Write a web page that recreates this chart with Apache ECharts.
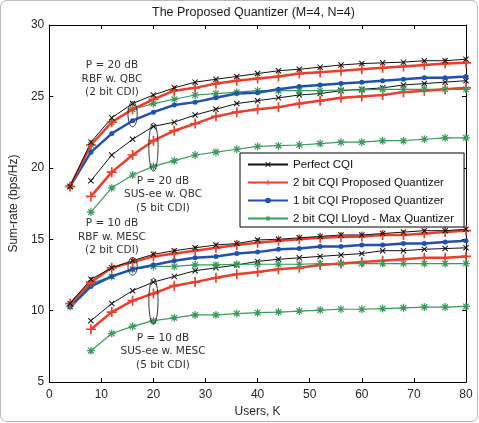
<!DOCTYPE html>
<html>
<head>
<meta charset="utf-8">
<script src="https://cdn.jsdelivr.net/npm/echarts@6/dist/echarts.min.js"></script>
<style>
  html, body { margin: 0; background: #fff; }
  #chart { width: 479px; height: 423px; }
</style>
</head>
<body>
<div id="chart"></div>
<script>
// users K (RBF curves start at 4, SUS-ee curves at 8)
var users = [4, 8, 12, 16, 20, 24, 28, 32, 36, 40, 44, 48, 52, 56, 60, 64, 68, 72, 76, 80]
var usersSus = users.slice(1)

// P = 20 dB, RBF w. QBC (2 bit CDI)
var rbf20Perfect = [18.7, 21.8, 23.5, 24.5, 25.1, 25.6, 26.0, 26.2, 26.4, 26.6, 26.8, 26.9, 27.05, 27.2, 27.3, 27.35, 27.4, 27.5, 27.5, 27.6]
var rbf20Bit2 = [18.7, 21.6, 23.2, 24.1, 24.8, 25.4, 25.6, 25.9, 26.1, 26.25, 26.4, 26.6, 26.7, 26.8, 26.9, 27.0, 27.1, 27.2, 27.3, 27.35]
var rbf20Bit1 = [18.7, 21.1, 22.4, 23.3, 23.9, 24.4, 24.6, 24.9, 25.2, 25.25, 25.5, 25.7, 25.8, 25.9, 26.0, 26.1, 26.2, 26.3, 26.3, 26.4]
var rbf20Lloyd = [18.7, 21.6, 23.2, 24.1, 24.5, 24.8, 25.1, 25.2, 25.3, 25.4, 25.4, 25.4, 25.4, 25.45, 25.45, 25.5, 25.5, 25.5, 25.5, 25.5]

// P = 20 dB, SUS-ee w. QBC (5 bit CDI)
var sus20Perfect = [19.1, 20.9, 22.0, 22.9, 23.2, 23.7, 24.1, 24.5, 24.7, 24.9, 25.1, 25.2, 25.4, 25.5, 25.6, 25.8, 25.9, 26.0, 26.1]
var sus20Bit2 = [18.0, 19.7, 20.9, 21.9, 22.6, 23.1, 23.6, 23.9, 24.1, 24.25, 24.5, 24.7, 24.9, 25.0, 25.1, 25.3, 25.4, 25.5, 25.6]
var sus20Lloyd = [16.9, 18.6, 19.5, 20.1, 20.5, 20.9, 21.1, 21.3, 21.5, 21.55, 21.6, 21.7, 21.8, 21.8, 21.9, 21.9, 22.0, 22.1, 22.1]

// P = 10 dB, RBF w. MESC (2 bit CDI)
var rbf10Perfect = [10.5, 12.2, 13.0, 13.5, 13.95, 14.2, 14.4, 14.6, 14.7, 14.95, 15.0, 15.1, 15.2, 15.3, 15.3, 15.4, 15.5, 15.6, 15.6, 15.7]
var rbf10Bit2 = [10.5, 12.0, 13.0, 13.4, 13.8, 14.0, 14.2, 14.4, 14.6, 14.75, 14.9, 15.0, 15.1, 15.15, 15.2, 15.3, 15.3, 15.4, 15.5, 15.6]
var rbf10Bit1 = [10.25, 11.7, 12.4, 12.9, 13.2, 13.5, 13.7, 13.8, 14.0, 14.1, 14.3, 14.35, 14.5, 14.5, 14.6, 14.6, 14.7, 14.7, 14.8, 14.9]
var rbf10Lloyd = [10.3, 11.9, 12.4, 12.9, 13.1, 13.1, 13.2, 13.2, 13.25, 13.25, 13.25, 13.25, 13.3, 13.3, 13.3, 13.3, 13.3, 13.3, 13.3, 13.3]

// P = 10 dB, SUS-ee w. MESC (5 bit CDI)
var sus10Perfect = [9.3, 10.5, 11.4, 12.0, 12.4, 12.8, 13.0, 13.2, 13.45, 13.6, 13.7, 13.8, 13.9, 14.0, 14.2, 14.2, 14.3, 14.35, 14.4]
var sus10Bit2 = [8.7, 9.9, 10.7, 11.2, 11.75, 12.0, 12.3, 12.55, 12.7, 12.9, 13.0, 13.2, 13.3, 13.4, 13.5, 13.6, 13.7, 13.7, 13.8]
var sus10Lloyd = [7.2, 8.4, 8.9, 9.3, 9.5, 9.7, 9.7, 9.8, 9.86, 9.9, 9.97, 10.04, 10.1, 10.1, 10.15, 10.2, 10.25, 10.25, 10.3]

var legendNames = ['Perfect CQI', '2 bit CQI Proposed Quantizer', '1 bit CQI Proposed Quantizer', '2 bit CQI Lloyd - Max Quantizer']

// marker shapes
var plusPath = 'path://M-1,-6L1,-6L1,-1L6,-1L6,1L1,1L1,6L-1,6L-1,1L-6,1L-6,-1L-1,-1Z'
var crossPath = 'path://M-3.67,-4.81L4.81,3.67L3.67,4.81L-4.81,-3.67ZM3.67,-4.81L4.81,-3.67L-3.67,4.81L-4.81,3.67Z'
var starPath = 'path://M-0.9,-6L0.9,-6L0.9,-0.9L6,-0.9L6,0.9L0.9,0.9L0.9,6L-0.9,6L-0.9,0.9L-6,0.9L-6,-0.9L-0.9,-0.9Z' +
  'M-3.6,-4.88L4.88,3.6L3.6,4.88L-4.88,-3.6ZM3.6,-4.88L4.88,-3.6L-3.6,4.88L-4.88,3.6Z'

var styles = {
  'Perfect CQI': { color: '#111111', width: 1, symbol: crossPath, size: 6 },
  '2 bit CQI Proposed Quantizer': { color: '#f03c2a', width: 2.5, symbol: plusPath, size: 10 },
  '1 bit CQI Proposed Quantizer': { color: '#2150b0', width: 2.5, symbol: 'circle', size: 5 },
  '2 bit CQI Lloyd - Max Quantizer': { color: '#3c9a5c', width: 1.2, symbol: starPath, size: 8 }
}

function pairs(xs, ys) {
  return ys.map(function(v, i) { return [xs[i], v] })
}

function line(name, xs, ys) {
  var s = styles[name]
  return {
    name: name,
    type: 'line',
    data: pairs(xs, ys),
    symbol: s.symbol,
    symbolSize: s.size,
    symbolKeepAspect: true,
    showAllSymbol: true,
    lineStyle: { color: s.color, width: s.width },
    itemStyle: { color: s.color, borderWidth: 0 },
    emphasis: { disabled: true },
    animation: false
  }
}

var series = [
  line(legendNames[3], usersSus, sus10Lloyd),
  line(legendNames[1], usersSus, sus10Bit2),
  line(legendNames[0], usersSus, sus10Perfect),
  line(legendNames[3], users, rbf10Lloyd),
  line(legendNames[2], users, rbf10Bit1),
  line(legendNames[1], users, rbf10Bit2),
  line(legendNames[0], users, rbf10Perfect),
  line(legendNames[3], usersSus, sus20Lloyd),
  line(legendNames[1], usersSus, sus20Bit2),
  line(legendNames[0], usersSus, sus20Perfect),
  line(legendNames[3], users, rbf20Lloyd),
  line(legendNames[2], users, rbf20Bit1),
  line(legendNames[1], users, rbf20Bit2),
  line(legendNames[0], users, rbf20Perfect)
]

var textColor = '#262626'
var font = 'Liberation Sans, Arial, sans-serif'

function valueAxis(extra) {
  var base = {
    type: 'value',
    axisLine: { show: true, onZero: false, lineStyle: { color: '#000', width: 1 } },
    axisTick: { show: true, inside: true, length: 4, lineStyle: { color: '#000' } },
    axisLabel: { color: textColor, fontSize: 12, fontFamily: font },
    splitLine: { show: false }
  }
  return Object.assign(base, extra)
}

var chart = echarts.init(document.getElementById('chart'))
chart.setOption({
  backgroundColor: '#fff',
  animation: false,
  title: {
    text: 'The Proposed Quantizer (M=4, N=4)',
    left: 152,
    top: 6,
    padding: 0,
    textStyle: { color: '#1a1a1a', fontSize: 12.5, fontWeight: 'normal', fontFamily: font }
  },
  grid: { left: 41, right: 13, top: 25, bottom: 36 },
  legend: {
    data: legendNames,
    orient: 'vertical',
    left: 240,
    top: 153,
    itemWidth: 40,
    itemHeight: 7,
    itemGap: 5,
    padding: [5, 10, 2, 7],
    borderColor: '#000',
    borderWidth: 1,
    borderRadius: 0,
    backgroundColor: '#fff',
    selectedMode: false,
    textStyle: { color: '#111', fontSize: 11.5, fontFamily: font, lineHeight: 13 }
  },
  xAxis: [
    valueAxis({
      min: 0, max: 80, interval: 10, position: 'bottom',
      name: 'Users, K', nameLocation: 'middle', nameGap: 22,
      nameTextStyle: { color: textColor, fontSize: 12, fontFamily: font },
      axisLabel: { color: textColor, fontSize: 12, fontFamily: font, margin: 7 }
    }),
    valueAxis({
      min: 0, max: 80, interval: 10, position: 'top',
      axisLabel: { show: false }
    })
  ],
  yAxis: [
    valueAxis({
      min: 5, max: 30, interval: 5, position: 'left',
      name: 'Sum-rate (bps/Hz)', nameLocation: 'middle', nameGap: 28,
      nameTextStyle: { color: textColor, fontSize: 12, fontFamily: font },
      axisLabel: { color: textColor, fontSize: 12, fontFamily: font, margin: 5 }
    }),
    valueAxis({
      min: 5, max: 30, interval: 5, position: 'right',
      axisLabel: { show: false }
    })
  ],
  series: series
})

// ellipses grouping the curves: [users, upper value, lower value]
var ellipses = [
  [16, 24.63, 22.87],
  [20, 23.14, 19.76],
  [16, 13.72, 12.48],
  [20, 12.27, 9.05]
]

var notes = [
  { x: 112, y: 59, text: 'P = 20 dB\nRBF w. QBC\n(2 bit CDI)' },
  { x: 163, y: 174.5, text: 'P = 20 dB\nSUS-ee w. QBC\n(5 bit CDI)' },
  { x: 112, y: 217, text: 'P = 10 dB\nRBF w. MESC\n(2 bit CDI)' },
  { x: 163, y: 331.5, text: 'P = 10 dB\nSUS-ee w. MESC\n(5 bit CDI)' }
]

var graphics = [{
  type: 'rect',
  shape: { x: 0.5, y: 0.5, width: 477, height: 421, r: 6 },
  style: { fill: 'none', stroke: '#b8b8b8', lineWidth: 1 },
  silent: true,
  z: 0
}]

ellipses.forEach(function(e) {
  var top = chart.convertToPixel({ gridIndex: 0 }, [e[0], e[1]])
  var bottom = chart.convertToPixel({ gridIndex: 0 }, [e[0], e[2]])
  graphics.push({
    type: 'ellipse',
    shape: { cx: top[0], cy: (top[1] + bottom[1]) / 2, rx: 4.6, ry: (bottom[1] - top[1]) / 2 },
    style: { fill: 'none', stroke: '#333', lineWidth: 1 },
    silent: true,
    z: 100
  })
})

notes.forEach(function(n) {
  graphics.push({
    type: 'text',
    x: n.x,
    y: n.y,
    style: {
      text: n.text,
      fill: '#333',
      font: '10.5px "DejaVu Sans", sans-serif',
      align: 'center',
      verticalAlign: 'top',
      lineHeight: 13.5
    },
    silent: true,
    z: 100
  })
})

chart.setOption({ graphic: graphics })
</script>
</body>
</html>
